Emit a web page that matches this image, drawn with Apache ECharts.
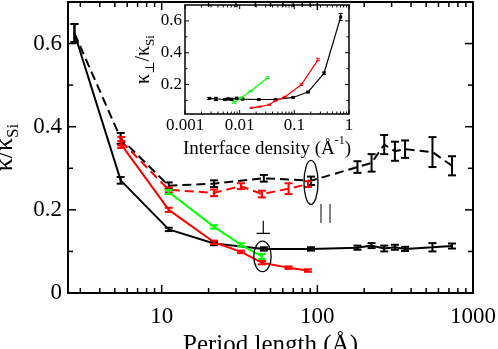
<!DOCTYPE html>
<html>
<head>
<meta charset="utf-8">
<script src="https://cdn.jsdelivr.net/npm/echarts@6/dist/echarts.min.js"></script>
<style>
html, body { margin: 0; padding: 0; background: #fff; }
#main { width: 498px; height: 349px; }
#probe { width: 498px; height: 349px; position: absolute; left: -2000px; top: 0; }
</style>
</head>
<body>
<div id="main"></div>
<div id="probe"></div>
<script>
// ---- data ----
// black series: perpendicular (solid) and parallel (dashed)
var periodBlack = [2.75, 5.45, 11.1, 21.7, 45.3, 91, 181, 223, 269, 315, 366, 549, 733];
var kPerpBlack  = [0.625, 0.271, 0.153, 0.119, 0.106, 0.106, 0.109, 0.114, 0.107, 0.110, 0.106, 0.110, 0.113];
var ePerpBlack  = [0.022, 0.008, 0.004, 0.004, 0.004, 0.004, 0.005, 0.006, 0.007, 0.006, 0.005, 0.010, 0.006];
var kParBlack   = [0.625, 0.372, 0.258, 0.263, 0.276, 0.270, 0.303, 0.313, 0.357, 0.341, 0.346, 0.339, 0.306];
var eParBlack   = [0.022, 0.013, 0.008, 0.008, 0.008, 0.010, 0.014, 0.021, 0.023, 0.023, 0.021, 0.036, 0.023];

// red series
var periodRed = [5.5, 11.1, 21.7, 32.3, 44, 65.3, 87];
var kPerpRed  = [0.357, 0.200, 0.122, 0.099, 0.073, 0.061, 0.054];
var ePerpRed  = [0.008, 0.005, 0.004, 0.003, 0.004, 0.003, 0.003];
var kParRed   = [0.365, 0.248, 0.241, 0.257, 0.238, 0.251, 0.262];
var eParRed   = [0.010, 0.006, 0.008, 0.007, 0.008, 0.013, 0.007];

// green series (perpendicular only)
var periodGreen = [11.1, 21.7, 32.3, 44];
var kPerpGreen  = [0.243, 0.159, 0.116, 0.088];
var ePerpGreen  = [0.005, 0.004, 0.004, 0.006];

// inset: interface density of the same perpendicular points
var densBlack = [0.705, 0.349, 0.178, 0.0949, 0.0453, 0.0224, 0.0113, 0.00879, 0.00713, 0.00617, 0.00537, 0.00368, 0.00278];
var densRed   = [0.272, 0.135, 0.067, 0.0453, 0.0346, 0.0234, 0.0165];
var densGreen = [0.0324, 0.016, 0.0105, 0.0079];

// ticks
var xMajor = [10, 100, 1000];
var xMinor = [3, 4, 5, 6, 7, 8, 9, 20, 30, 40, 50, 60, 70, 80, 90, 200, 300, 400, 500, 600, 700, 800, 900];
var yMajor = [0, 0.2, 0.4, 0.6];
var yMinor = [0.1, 0.3, 0.5];
var insXMajor = [0.001, 0.01, 0.1, 1];
var insXMinor = [0.002, 0.003, 0.004, 0.005, 0.006, 0.007, 0.008, 0.009,
                 0.02, 0.03, 0.04, 0.05, 0.06, 0.07, 0.08, 0.09,
                 0.2, 0.3, 0.4, 0.5, 0.6, 0.7, 0.8, 0.9];
var insYMajor = [0.2, 0.4, 0.6];
var insYMinor = [0.1, 0.3, 0.5];

var FONT = 'Liberation Serif, DejaVu Serif, serif';

// axis ranges
var mainX = [2.5, 1000], mainY = [0, 0.7];
var insX = [0.001, 1], insY = [0.015, 0.7];

function axis(o) {
    var a = {
        type: o.type, gridIndex: o.grid, min: o.range[0], max: o.range[1], position: o.pos,
        axisLine: { show: true, onZero: false, lineStyle: { color: '#000', width: o.lw } },
        axisTick: { show: false },
        axisLabel: { show: false },
        splitLine: { show: false }
    };
    if (o.labels) {
        a.axisLabel = { show: true, customValues: o.labels, margin: o.margin,
                        formatter: function (v) { return String(v); },
                        color: '#000', fontFamily: FONT, fontSize: o.fs };
    }
    return a;
}

var xAxes = [
    axis({type: 'log', grid: 0, range: mainX, pos: 'bottom', lw: 2, labels: xMajor, fs: 23, margin: 12}),
    axis({type: 'log', grid: 0, range: mainX, pos: 'top', lw: 2}),
    axis({type: 'log', grid: 1, range: insX, pos: 'bottom', lw: 1.5, labels: insXMajor, fs: 17, margin: 3}),
    axis({type: 'log', grid: 1, range: insX, pos: 'top', lw: 1.5})
];
var yAxes = [
    axis({type: 'value', grid: 0, range: mainY, pos: 'left', lw: 2, labels: yMajor, fs: 23, margin: 6}),
    axis({type: 'value', grid: 0, range: mainY, pos: 'right', lw: 2}),
    axis({type: 'value', grid: 1, range: insY, pos: 'left', lw: 1.5, labels: insYMajor, fs: 17, margin: 3}),
    axis({type: 'value', grid: 1, range: insY, pos: 'right', lw: 1.5})
];

// axis titles
xAxes[0].name = 'Period length (Å)';
xAxes[0].nameLocation = 'middle';
xAxes[0].nameGap = 28;
xAxes[0].nameTextStyle = { fontFamily: FONT, fontSize: 25, color: '#000' };

yAxes[0].name = '{a|κ/κ}{s|Si}';
yAxes[0].nameLocation = 'middle';
yAxes[0].nameGap = 42;
yAxes[0].nameTextStyle = { color: '#000', rich: {
    a: { fontFamily: FONT, fontSize: 26, lineHeight: 26, verticalAlign: 'top', color: '#000' },
    s: { fontFamily: FONT, fontSize: 17, lineHeight: 17, padding: [13, 0, 0, 0], verticalAlign: 'top', color: '#000' }
}};

xAxes[2].name = '{a|Interface density (Å}{p|-1}{a|)}';
xAxes[2].nameLocation = 'middle';
xAxes[2].nameGap = 9;
xAxes[2].nameTextStyle = { color: '#000', rich: {
    a: { fontFamily: FONT, fontSize: 19, lineHeight: 24, verticalAlign: 'bottom', color: '#000' },
    p: { fontFamily: FONT, fontSize: 12, lineHeight: 12, verticalAlign: 'top', color: '#000' }
}};

yAxes[2].name = '{a|κ}{s|⊥}{a|/κ}{s|Si}';
yAxes[2].nameLocation = 'middle';
yAxes[2].nameGap = 24;
yAxes[2].nameTextStyle = { color: '#000', rich: {
    a: { fontFamily: FONT, fontSize: 20, lineHeight: 20, verticalAlign: 'top', color: '#000' },
    s: { fontFamily: FONT, fontSize: 13, lineHeight: 13, padding: [10, 0, 0, 0], verticalAlign: 'top', color: '#000' }
}};

function pairs(xs, ys) {
    return xs.map(function (x, i) { return [x, ys[i]]; });
}

function lineSeries(ax, xs, ys, color, width, dash) {
    return {
        type: 'line', xAxisIndex: ax, yAxisIndex: ax, data: pairs(xs, ys),
        symbol: 'none', z: 3, silent: true,
        lineStyle: { color: color, width: width, type: dash || 'solid' },
        itemStyle: { color: color }
    };
}

function errSeries(ax, xs, ys, es, color, cap, lw) {
    return {
        type: 'custom', xAxisIndex: ax, yAxisIndex: ax, z: 5, silent: true,
        data: xs.map(function (x, i) { return [x, ys[i], es[i]]; }),
        encode: { x: 0, y: 1 },
        renderItem: function (params, api) {
            var x = api.value(0), y = api.value(1), e = api.value(2);
            var a = api.coord([x, y + e]), b = api.coord([x, y - e]);
            var st = { stroke: color, lineWidth: lw };
            return { type: 'group', children: [
                { type: 'line', shape: { x1: a[0], y1: a[1], x2: b[0], y2: b[1] }, style: st },
                { type: 'line', shape: { x1: a[0] - cap, y1: a[1], x2: a[0] + cap, y2: a[1] }, style: st },
                { type: 'line', shape: { x1: b[0] - cap, y1: b[1], x2: b[0] + cap, y2: b[1] }, style: st }
            ]};
        }
    };
}

// inward tick marks on all four sides of a plot, placed through the axes' scales
// each item: [x, y, side (0 = x tick, 1 = y tick), length]
function tickSeries(ax, xr, yr, xMaj, xMin, yMaj, yMin, majLen, minLen, lw) {
    var data = [];
    xMaj.forEach(function (v) { data.push([v, yr[0], 0, majLen]); });
    xMin.forEach(function (v) { data.push([v, yr[0], 0, minLen]); });
    yMaj.forEach(function (v) { data.push([xr[0], v, 1, majLen]); });
    yMin.forEach(function (v) { data.push([xr[0], v, 1, minLen]); });
    return {
        type: 'custom', xAxisIndex: ax, yAxisIndex: ax, z: 6, silent: true, clip: false,
        data: data, encode: { x: 0, y: 1 },
        renderItem: function (params, api) {
            var side = api.value(2), len = api.value(3);
            var st = { stroke: '#000', lineWidth: lw };
            var p, q;
            if (side == 0) {
                p = api.coord([api.value(0), yr[0]]);
                q = api.coord([api.value(0), yr[1]]);
                return { type: 'group', children: [
                    { type: 'line', shape: { x1: p[0], y1: p[1], x2: p[0], y2: p[1] - len }, style: st },
                    { type: 'line', shape: { x1: q[0], y1: q[1], x2: q[0], y2: q[1] + len }, style: st }
                ]};
            }
            p = api.coord([xr[0], api.value(1)]);
            q = api.coord([xr[1], api.value(1)]);
            return { type: 'group', children: [
                { type: 'line', shape: { x1: p[0], y1: p[1], x2: p[0] + len, y2: p[1] }, style: st },
                { type: 'line', shape: { x1: q[0], y1: q[1], x2: q[0] - len, y2: q[1] }, style: st }
            ]};
        }
    };
}

var dash = [9, 5];
var series = [
    lineSeries(0, periodBlack, kParBlack, '#000', 2, dash),
    lineSeries(0, periodRed, kParRed, '#ff0000', 2, dash),
    lineSeries(0, periodBlack, kPerpBlack, '#000', 2),
    lineSeries(0, periodRed, kPerpRed, '#ff0000', 2),
    lineSeries(0, periodGreen, kPerpGreen, '#00ff00', 2),
    errSeries(0, periodBlack, kParBlack, eParBlack, '#000', 4, 2),
    errSeries(0, periodRed, kParRed, eParRed, '#ff0000', 4, 2),
    errSeries(0, periodBlack, kPerpBlack, ePerpBlack, '#000', 4, 2),
    errSeries(0, periodRed, kPerpRed, ePerpRed, '#ff0000', 4, 2),
    errSeries(0, periodGreen, kPerpGreen, ePerpGreen, '#00ff00', 4, 2),
    tickSeries(0, mainX, mainY, xMajor, xMinor, yMajor, yMinor, 8, 5, 1.5),
    // inset
    lineSeries(2, densBlack, kPerpBlack, '#000', 1.2),
    lineSeries(2, densRed, kPerpRed, '#ff0000', 1.2),
    lineSeries(2, densGreen, kPerpGreen, '#00ff00', 1.2),
    errSeries(2, densBlack, kPerpBlack, ePerpBlack, '#000', 2, 1),
    errSeries(2, densRed, kPerpRed, ePerpRed, '#ff0000', 2, 1),
    errSeries(2, densGreen, kPerpGreen, ePerpGreen, '#00ff00', 2, 1),
    tickSeries(2, insX, insY, insXMajor, insXMinor, insYMajor, insYMinor, 4, 2.5, 1)
];
series[11].symbol = 'rect';
series[11].symbolSize = 3;
series[11].showSymbol = true;

var option = {
    animation: false,
    grid: [
        { left: 68, right: 25, top: 2, bottom: 56, outerBoundsMode: 'none' },
        { left: 185, right: 149, top: 5, bottom: 235, outerBoundsMode: 'none' }
    ],
    xAxis: xAxes,
    yAxis: yAxes,
    series: series
};

// work out where the annotations go on an off-screen copy of the chart
var probe = echarts.init(document.getElementById('probe'));
probe.setOption(option);
function px(x, y) { return probe.convertToPixel({ xAxisIndex: 0, yAxisIndex: 0 }, [x, y]); }
var e1 = px(44.4, 0.088), e2 = px(91, 0.266), t1 = px(45, 0.155), t2 = px(113, 0.193);
probe.dispose();

option.graphic = [
    { type: 'ellipse', shape: { cx: e1[0], cy: e1[1], rx: 8.7, ry: 15.3 }, style: { fill: 'none', stroke: '#000', lineWidth: 1.3 }, z: 10 },
    { type: 'ellipse', shape: { cx: e2[0], cy: e2[1], rx: 7, ry: 22 }, style: { fill: 'none', stroke: '#000', lineWidth: 1.3 }, z: 10 },
    { type: 'text', x: t1[0], y: t1[1], style: { text: '⊥', font: '19px DejaVu Sans', fill: '#000', align: 'center', verticalAlign: 'middle' }, z: 10 },
    { type: 'text', x: t2[0], y: t2[1], style: { text: '| |', font: '20px Liberation Serif', fill: '#000', align: 'center', verticalAlign: 'middle' }, z: 10 }
];

var chart = echarts.init(document.getElementById('main'));
chart.setOption(option);
</script>
</body>
</html>
